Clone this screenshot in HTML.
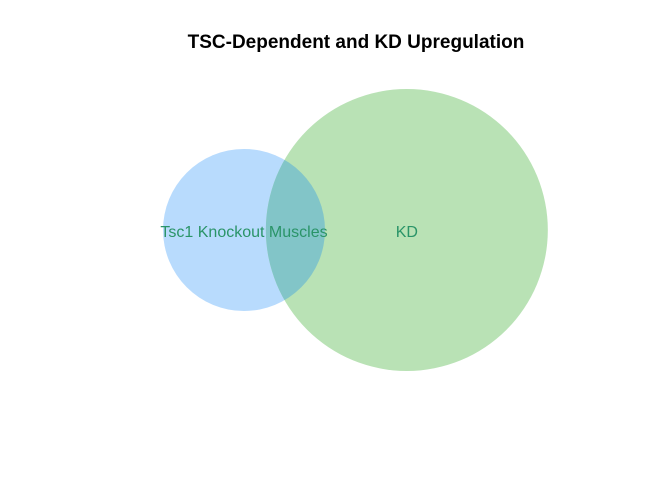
<!DOCTYPE html>
<html><head><meta charset="utf-8"><style>
body{margin:0;background:#fff;}
svg{display:block;font-family:"Liberation Sans",sans-serif;}
</style></head><body>
<svg id="chart" width="672" height="480">
<text x="356" y="48" text-anchor="middle" font-size="19" font-weight="bold" fill="#000">TSC-Dependent and KD Upregulation</text>
</svg>
<script>
const setLabels = ["Tsc1 Knockout Muscles", "KD"];
const setSizes = [100, 303];
const overlapSize = 22;
const setFills = ["#b8dbfd", "#b9e2b5"];
const overlapFill = "#82c5c8";

const NS = "http://www.w3.org/2000/svg";
const svg = document.getElementById("chart");
const scale = 81 / Math.sqrt(setSizes[0]);
const r = setSizes.map(s => Math.sqrt(s) * scale);
const cy = 230;
const overlapFrac = overlapSize / setSizes[0];
const d = r[0] + r[1] - 2 * r[0] * overlapFrac * 1.66;
const cx0 = 244;
const cx = [cx0, cx0 + d];

const defs = document.createElementNS(NS, "defs");
const clip = document.createElementNS(NS, "clipPath");
clip.setAttribute("id", "clipA");
const cc = document.createElementNS(NS, "circle");
cc.setAttribute("cx", cx[0]); cc.setAttribute("cy", cy); cc.setAttribute("r", r[0]);
clip.appendChild(cc); defs.appendChild(clip); svg.appendChild(defs);

for (let i = 0; i < 2; i++) {
  const c = document.createElementNS(NS, "circle");
  c.setAttribute("cx", cx[i]); c.setAttribute("cy", cy); c.setAttribute("r", r[i]);
  c.setAttribute("fill", setFills[i]);
  
  
  svg.appendChild(c);
}
const ov = document.createElementNS(NS, "circle");
ov.setAttribute("cx", cx[1]); ov.setAttribute("cy", cy); ov.setAttribute("r", r[1]);
ov.setAttribute("fill", overlapFill);
ov.setAttribute("clip-path", "url(#clipA)");


svg.appendChild(ov);

for (let i = 0; i < 2; i++) {
  const t = document.createElementNS(NS, "text");
  t.setAttribute("x", cx[i]); t.setAttribute("y", cy + 7);
  t.setAttribute("text-anchor", "middle");
  t.setAttribute("font-size", "16");
  t.setAttribute("fill", "#2a9468");
  t.textContent = setLabels[i];
  
  
  svg.appendChild(t);
}
</script>
</body></html>
